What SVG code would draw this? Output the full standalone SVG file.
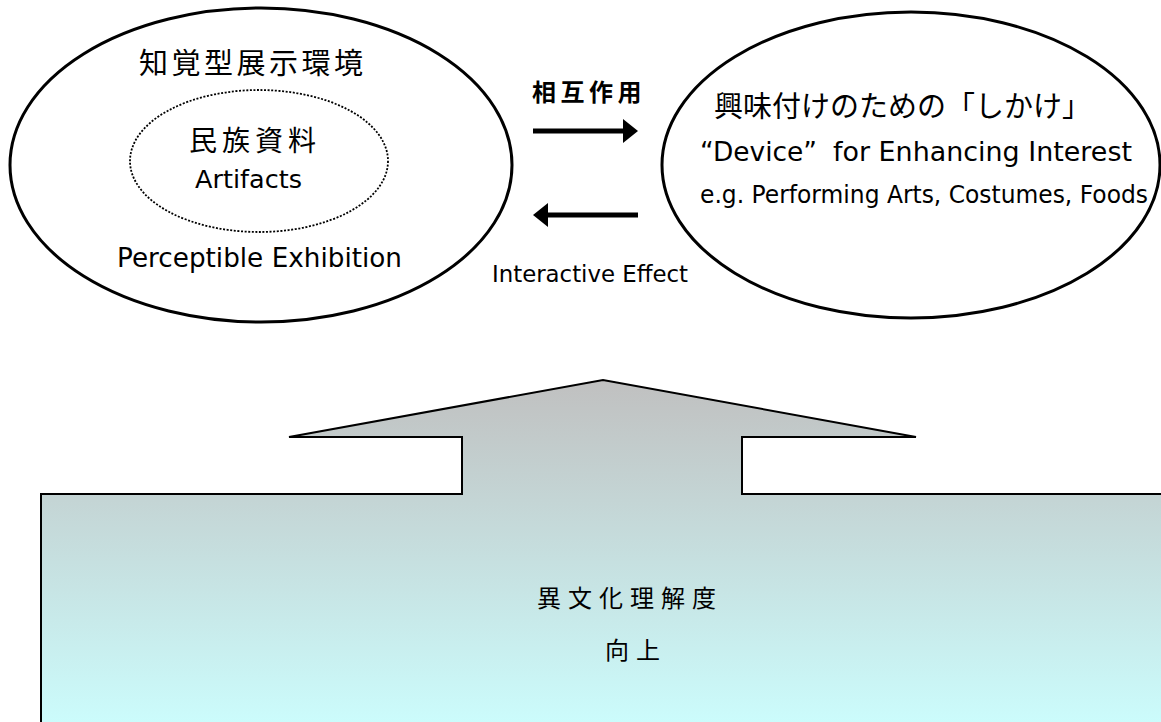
<svg xmlns="http://www.w3.org/2000/svg" width="1161" height="722" viewBox="0 0 1161 722">
<style>
.en{font-family:"DejaVu Sans","Noto Sans CJK JP",sans-serif;fill:#000}
.jp{font-family:"Noto Sans CJK JP","DejaVu Sans",sans-serif;fill:#000}
.ell{fill:none;stroke:#000;stroke-width:3}
.dot{fill:none;stroke:#000;stroke-width:1.8;stroke-dasharray:2 1.6}
.shaft{stroke:#000;stroke-width:5}
</style>
<defs>
<linearGradient id="g" x1="0" y1="380" x2="0" y2="740" gradientUnits="userSpaceOnUse">
<stop offset="0" stop-color="#C0C0C0"/>
<stop offset="1" stop-color="#CCFFFF"/>
</linearGradient>
</defs>
<rect width="1161" height="722" fill="#fff"/>
<g id="base">
<polygon points="41,494 462,494 462,437 289,437 603,380 916,437 742,437 742,494 1175,494 1175,735 41,735" fill="url(#g)" stroke="#000" stroke-width="2" stroke-linejoin="miter"/>
<text class="jp" x="537" y="607" font-size="24" letter-spacing="7">異文化理解度</text>
<text class="jp" x="605" y="659" font-size="24" letter-spacing="7">向上</text>
</g>
<g id="exhibition">
<ellipse class="ell" cx="261" cy="165" rx="251" ry="157"/>
<text class="jp" x="139" y="74" font-size="29" letter-spacing="3.5">知覚型展示環境</text>
<text class="en" x="117" y="267" font-size="26" textLength="285" lengthAdjust="spacingAndGlyphs">Perceptible Exhibition</text>
</g>
<g id="artifacts">
<ellipse class="dot" cx="259" cy="161" rx="129" ry="71"/>
<text class="jp" x="189" y="151" font-size="28" letter-spacing="5">民族資料</text>
<text class="en" x="195" y="188" font-size="25" textLength="107" lengthAdjust="spacingAndGlyphs">Artifacts</text>
</g>
<g id="device">
<ellipse class="ell" cx="911" cy="165" rx="249" ry="153" stroke-width="2.6"/>
<text class="jp" x="714" y="117" font-size="29">興味付けのための「しかけ」</text>
<text class="en" x="700" y="161" font-size="26" textLength="117" lengthAdjust="spacingAndGlyphs">“Device”</text>
<text class="en" x="833" y="161" font-size="26" textLength="299" lengthAdjust="spacingAndGlyphs">for Enhancing Interest</text>
<text class="en" x="700" y="203" font-size="24" textLength="448" lengthAdjust="spacingAndGlyphs">e.g. Performing Arts, Costumes, Foods</text>
</g>
<g id="connectors">
<line class="shaft" x1="533" y1="131" x2="625" y2="131"/>
<polygon points="623,119 638,131 623,143"/>
<line class="shaft" x1="546" y1="215" x2="638" y2="215"/>
<polygon points="548,203 533,215 548,227"/>
<text class="jp" x="532" y="101" font-size="24" font-weight="bold" letter-spacing="4.5">相互作用</text>
<text class="en" x="492" y="282" font-size="23" textLength="196" lengthAdjust="spacingAndGlyphs">Interactive Effect</text>
</g>
</svg>
